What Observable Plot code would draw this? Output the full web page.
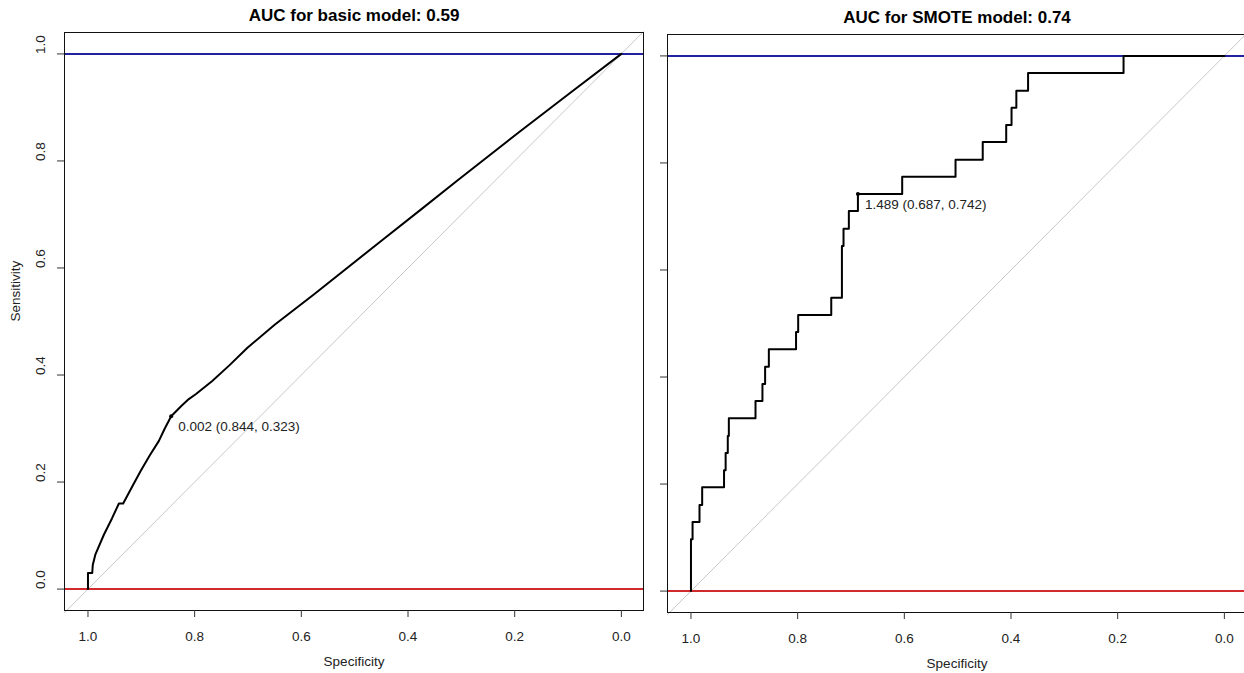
<!DOCTYPE html>
<html><head><meta charset="utf-8">
<script src="https://cdn.jsdelivr.net/npm/d3@7"></script>
<script src="https://cdn.jsdelivr.net/npm/@observablehq/plot@0.6"></script>
<style>
html,body{margin:0;padding:0;background:#fff;overflow:hidden;width:1244px;height:673px;}
#wrap{position:relative;width:1244px;height:673px;overflow:hidden;background:#fff;}
#left,#right{position:absolute;top:0;}
#left{left:0;width:650px;}
#right{left:650px;width:601px;}
#wrap svg{max-width:none !important;}
</style></head><body><div id="wrap"><div id="left"></div><div id="right"></div></div>
<script>
// ---- data ----
const xTicks = [1.0, 0.8, 0.6, 0.4, 0.2, 0.0];
const yTicks = [0.0, 0.2, 0.4, 0.6, 0.8, 1.0];
const titles = ["AUC for basic model: 0.59", "AUC for SMOTE model: 0.74"];
const xLabel = "Specificity";
const yLabel = "Sensitivity";

const basicSpec = [1, 1, 0.992, 0.991, 0.986, 0.970, 0.955, 0.942, 0.934, 0.918, 0.901, 0.884, 0.867, 0.856, 0.844, 0.825, 0.811, 0.798, 0.767, 0.735, 0.701, 0.650, 0.576, 0.451, 0.376, 0.308, 0.189, 0.095, 0];
const basicSens = [0, 0.030, 0.030, 0.045, 0.065, 0.102, 0.132, 0.160, 0.160, 0.190, 0.221, 0.250, 0.277, 0.300, 0.323, 0.342, 0.355, 0.364, 0.389, 0.418, 0.451, 0.494, 0.551, 0.650, 0.709, 0.763, 0.856, 0.928, 1];

const smoteSpec = [1, 1, 0.997, 0.997, 0.984, 0.984, 0.979, 0.979, 0.938, 0.938, 0.935, 0.935, 0.931, 0.931, 0.929, 0.929, 0.879, 0.879, 0.866, 0.866, 0.861, 0.861, 0.854, 0.854, 0.803, 0.803, 0.799, 0.799, 0.737, 0.737, 0.717, 0.717, 0.714, 0.714, 0.704, 0.704, 0.687, 0.687, 0.604, 0.604, 0.504, 0.504, 0.453, 0.453, 0.409, 0.409, 0.399, 0.399, 0.390, 0.390, 0.368, 0.368, 0.189, 0.189, 0];
const smoteSens = [0, 0.097, 0.097, 0.129, 0.129, 0.161, 0.161, 0.194, 0.194, 0.226, 0.226, 0.258, 0.258, 0.290, 0.290, 0.323, 0.323, 0.355, 0.355, 0.387, 0.387, 0.419, 0.419, 0.452, 0.452, 0.484, 0.484, 0.516, 0.516, 0.548, 0.548, 0.645, 0.645, 0.677, 0.677, 0.710, 0.710, 0.742, 0.742, 0.774, 0.774, 0.806, 0.806, 0.839, 0.839, 0.871, 0.871, 0.903, 0.903, 0.935, 0.935, 0.968, 0.968, 1, 1];

const thrLabels = ["0.002", "1.489"];
const thrSpec = [0.844, 0.687];
const thrSens = [0.323, 0.742];

// ---- drawing ----
const FONT = "'Liberation Sans', Arial, Helvetica, sans-serif";
const fmt = d3.format(".1f");
const BLUE = "#22229e";
const RED = "#d02a2a";

function panel({spec, sens, title, thrIdx, showYLabels, width, marginLeft, marginTop}) {
  const xDomain = [1.044, -0.0415];
  const yDomain = [-0.04, 1.04];
  const innerW = 579, innerH = 578, height = 673;
  const curve = spec.map((s, i) => ({spec: s, sens: sens[i]}));
  const diag = xDomain.map(x => ({spec: x, sens: 1 - x}));
  const best = [{spec: thrSpec[thrIdx], sens: thrSens[thrIdx],
    label: `${thrLabels[thrIdx]} (${thrSpec[thrIdx].toFixed(3)}, ${thrSens[thrIdx].toFixed(3)})`}];
  return Plot.plot({
    width, height,
    marginLeft, marginTop,
    marginRight: width - marginLeft - innerW,
    marginBottom: height - marginTop - innerH,
    x: {domain: xDomain},
    y: {domain: yDomain},
    style: {fontFamily: FONT, fontSize: "13.5px", color: "#222", background: "white", overflow: "visible", maxWidth: "none"},
    marks: [
      Plot.line(diag, {x: "spec", y: "sens", stroke: "#c8c8c8", strokeWidth: 1}),
      Plot.ruleY([1], {stroke: BLUE, strokeWidth: 2}),
      Plot.ruleY([0], {stroke: RED, strokeWidth: 2}),
      Plot.line(curve, {x: "spec", y: "sens", stroke: "#000", strokeWidth: 2}),
      Plot.dot(best, {x: "spec", y: "sens", r: 2, fill: "#000", stroke: null}),
      Plot.text(best, {x: "spec", y: "sens", text: "label", textAnchor: "start", dx: 7, dy: 10.5, fill: "#222"}),
      Plot.frame({stroke: "#111", strokeWidth: 1}),
      Plot.axisX({ticks: xTicks, tickSize: 7, tickPadding: 14, tickFormat: fmt, label: null, stroke: "#333", fill: "#222"}),
      Plot.axisY({ticks: yTicks, tickSize: 7, fill: "none", label: null, stroke: "#333"}),
      showYLabels ? Plot.text(yTicks, {y: d => d, text: d => fmt(d), frameAnchor: "left", rotate: -90, dx: -24, fill: "#222"}) : null,
      Plot.text([title], {frameAnchor: "top", lineAnchor: "top", dy: -23.5, fontWeight: "bold", fontSize: 17, fill: "#000"}),
      Plot.text([xLabel], {frameAnchor: "bottom", lineAnchor: "top", dy: 46, fill: "#222"}),
      showYLabels ? Plot.text([yLabel], {frameAnchor: "left", rotate: -90, dx: -49, fill: "#222"}) : null
    ]
  });
}

document.getElementById("left").appendChild(panel({
  spec: basicSpec, sens: basicSens, title: titles[0], thrIdx: 0, showYLabels: true,
  width: 650, marginLeft: 64, marginTop: 32
}));
document.getElementById("right").appendChild(panel({
  spec: smoteSpec, sens: smoteSens, title: titles[1], thrIdx: 1, showYLabels: false,
  width: 601, marginLeft: 17, marginTop: 34
}));
</script></body></html>
